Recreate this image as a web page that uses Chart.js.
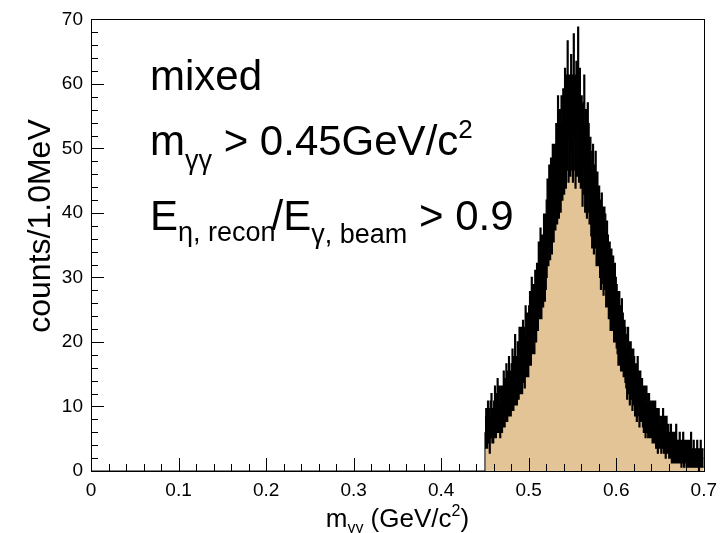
<!DOCTYPE html>
<html>
<head>
<meta charset="utf-8">
<script src="https://cdn.jsdelivr.net/npm/chart.js@4.4.1/dist/chart.umd.min.js"></script>
<style>
  body { margin: 0; background: #fff; }
</style>
</head>
<body>
<canvas id="histo" width="725" height="533"></canvas>
<script>
// 1 MeV bins, first filled bin starts at 0.450 GeV/c^2 (everything below is empty)
const binStart = 0.45;
const binWidth = 0.001;
const counts = [
	6, 7, 6, 8, 7, 5, 8, 9, 7, 7,
	8, 10, 8, 9, 11, 9, 10, 8, 10, 9,
	10, 12, 10, 11, 13, 11, 12, 14, 12, 12,
	13, 15, 13, 14, 17, 14, 14, 16, 15, 18,
	16, 18, 16, 19, 18, 17, 21, 19, 20, 19,
	21, 23, 21, 25, 23, 24, 23, 26, 25, 27,
	27, 30, 29, 32, 29, 31, 31, 34, 32, 34,
	36, 39, 38, 41, 39, 42, 40, 44, 42, 44,
	44, 47, 45, 51, 46, 49, 47, 51, 49, 52,
	50, 55, 51, 54, 59, 52, 54, 53, 57, 54,
	52, 60, 54, 51, 56, 53, 61, 52, 55, 51,
	51, 48, 50, 54, 47, 49, 46, 50, 47, 45,
	45, 43, 41, 44, 40, 41, 43, 38, 40, 38,
	38, 36, 34, 37, 35, 33, 35, 34, 31, 33,
	31, 29, 30, 27, 29, 27, 28, 25, 27, 25,
	24, 23, 21, 23, 21, 20, 22, 20, 19, 19,
	18, 17, 15, 18, 16, 14, 16, 15, 13, 15,
	14, 12, 13, 11, 14, 12, 10, 12, 11, 11,
	10, 9, 10, 8, 10, 9, 8, 9, 8, 8,
	8, 7, 8, 7, 8, 6, 7, 5, 7, 6,
	6, 5, 6, 7, 5, 6, 4, 6, 5, 5,
	4, 4, 5, 3, 4, 3, 4, 3, 5, 3,
	3, 3, 4, 3, 2, 3, 4, 2, 3, 3,
	2, 3, 2, 3, 2, 4, 2, 2, 3, 2,
	2, 2, 3, 2, 1, 2, 3, 2, 2, 2,
];
const xRange = [0, 0.7];
const yRange = [0, 70];
const xMajor = 0.1, xMinor = 0.02;
const yMajor = 10, yMinor = 2;

const FONT = "'Liberation Sans', Arial, sans-serif";

const edges = counts.map((c, i) => +(binStart + i * binWidth).toFixed(3));
const lastEdge = +(binStart + counts.length * binWidth).toFixed(3);

function stepPoints(vals) {
	const pts = vals.map((v, i) => ({ x: edges[i], y: v }));
	pts.push({ x: lastEdge, y: vals[vals.length - 1] });
	return pts;
}

// statistical errors, drawn as the black band
const errUp = counts.map(c => c + Math.sqrt(c));
const errDown = counts.map(c => Math.max(c - Math.sqrt(c), 0));

// text made of pieces with sub/superscripts
function richWidth(ctx, parts) {
	let w = 0;
	for (const p of parts) {
		ctx.font = p.size + "px " + FONT;
		w += ctx.measureText(p.t).width + (p.dx || 0);
	}
	return w;
}
function drawRich(ctx, x, y, parts) {
	for (const p of parts) {
		ctx.font = p.size + "px " + FONT;
		ctx.fillText(p.t, x, y + (p.dy || 0));
		x += ctx.measureText(p.t).width + (p.dx || 0);
	}
}

// frame + inward ticks like ROOT
function drawFrame(chart) {
	const { ctx, chartArea: a } = chart;
	const xs = chart.scales.x, ys = chart.scales.y;
	const L = Math.round(a.left), R = Math.round(a.right);
	const T = Math.round(a.top), B = Math.round(a.bottom);
	ctx.save();
	ctx.fillStyle = "#000";
	ctx.fillRect(L, T, R - L, 1);
	ctx.fillRect(L, B, R - L + 1, 1);
	ctx.fillRect(L, T, 1, B - T);
	ctx.fillRect(R, T, 1, B - T);
	const nx = Math.round((xRange[1] - xRange[0]) / xMinor);
	for (let i = 0; i <= nx; i++) {
		const px = Math.round(xs.getPixelForValue(xRange[0] + i * xMinor));
		const len = i % 5 === 0 ? 13 : 7;
		ctx.fillRect(px, B - len, 1, len);
	}
	const ny = Math.round((yRange[1] - yRange[0]) / yMinor);
	for (let i = 0; i <= ny; i++) {
		const py = Math.round(ys.getPixelForValue(yRange[0] + i * yMinor));
		const len = i % 5 === 0 ? 13 : 7;
		ctx.fillRect(L, py, len, 1);
	}
	ctx.restore();
}

const rootFrame = {
	id: "rootFrame",
	afterDatasetsDraw(chart) { drawFrame(chart); },
	afterDraw(chart) { drawFrame(chart); },
};

const rootText = {
	id: "rootText",
	afterDraw(chart) {
		const { ctx, chartArea: a } = chart;
		ctx.save();
		ctx.fillStyle = "#000";
		ctx.textBaseline = "alphabetic";
		ctx.textAlign = "left";

		// axis titles
		const xt = [
			{ t: "m", size: 26 },
			{ t: "γγ", size: 16, dy: 6 },
			{ t: " (GeV/c", size: 26 },
			{ t: "2", size: 16, dy: -11 },
			{ t: ")", size: 26 },
		];
		const xw = richWidth(ctx, xt);
		drawRich(ctx, (a.left + a.right) / 2 - xw / 2, 527, xt);

		ctx.save();
		ctx.translate(50, 226);
		ctx.rotate(-Math.PI / 2);
		ctx.font = "32px " + FONT;
		ctx.textAlign = "center";
		ctx.fillText("counts/1.0MeV", 0, 0);
		ctx.restore();

		// cut labels
		drawRich(ctx, 150, 90, [{ t: "mixed", size: 42 }]);
		drawRich(ctx, 150, 155, [
			{ t: "m", size: 42 },
			{ t: "γγ", size: 27, dy: 14 },
			{ t: " > 0.45GeV/c", size: 42 },
			{ t: "2", size: 26, dy: -17 },
		]);
		drawRich(ctx, 150, 230, [
			{ t: "E", size: 42 },
			{ t: "η, recon", size: 27, dy: 11, dx: -4 },
			{ t: "/E", size: 42 },
			{ t: "γ, beam", size: 27, dy: 13 },
			{ t: " > 0.9", size: 42 },
		]);
		ctx.restore();
	},
};

new Chart(document.getElementById("histo"), {
	type: "line",
	data: {
		datasets: [
			{
				label: "error up",
				data: stepPoints(errUp),
				stepped: true,
				borderColor: "#000",
				borderWidth: 1.3,
				pointRadius: 0,
				fill: false,
				order: 1,
			},
			{
				label: "error down",
				data: stepPoints(errDown),
				stepped: true,
				borderColor: "#000",
				borderWidth: 1.3,
				pointRadius: 0,
				fill: "-1",
				backgroundColor: "#000",
				order: 1,
			},
			{
				label: "mixed",
				data: [{ x: 0, y: 0 }, ...stepPoints(counts)],
				stepped: true,
				borderColor: "#000",
				borderWidth: 1,
				pointRadius: 0,
				fill: "origin",
				backgroundColor: "#e3c497",
				order: 2,
			},
		],
	},
	options: {
		responsive: false,
		animation: false,
		devicePixelRatio: 1,
		layout: { padding: { top: 14, right: 18, left: 0, bottom: 0 } },
		plugins: {
			legend: { display: false },
			tooltip: { enabled: false },
		},
		scales: {
			x: {
				type: "linear",
				min: xRange[0],
				max: xRange[1],
				grid: { display: false, drawTicks: false },
				border: { display: false },
				afterFit: s => { s.height = 62; },
				ticks: {
					stepSize: xMajor,
					padding: 8,
					color: "#000",
					font: { family: FONT, size: 19 },
					maxRotation: 0,
					callback: v => String(+v.toFixed(1)),
				},
			},
			y: {
				min: yRange[0],
				max: yRange[1],
				grid: { display: false, drawTicks: false },
				border: { display: false },
				afterFit: s => { s.width = 91; },
				ticks: {
					stepSize: yMajor,
					padding: 8,
					color: "#000",
					font: { family: FONT, size: 19 },
				},
			},
		},
	},
	plugins: [rootFrame, rootText],
});
</script>
</body>
</html>
